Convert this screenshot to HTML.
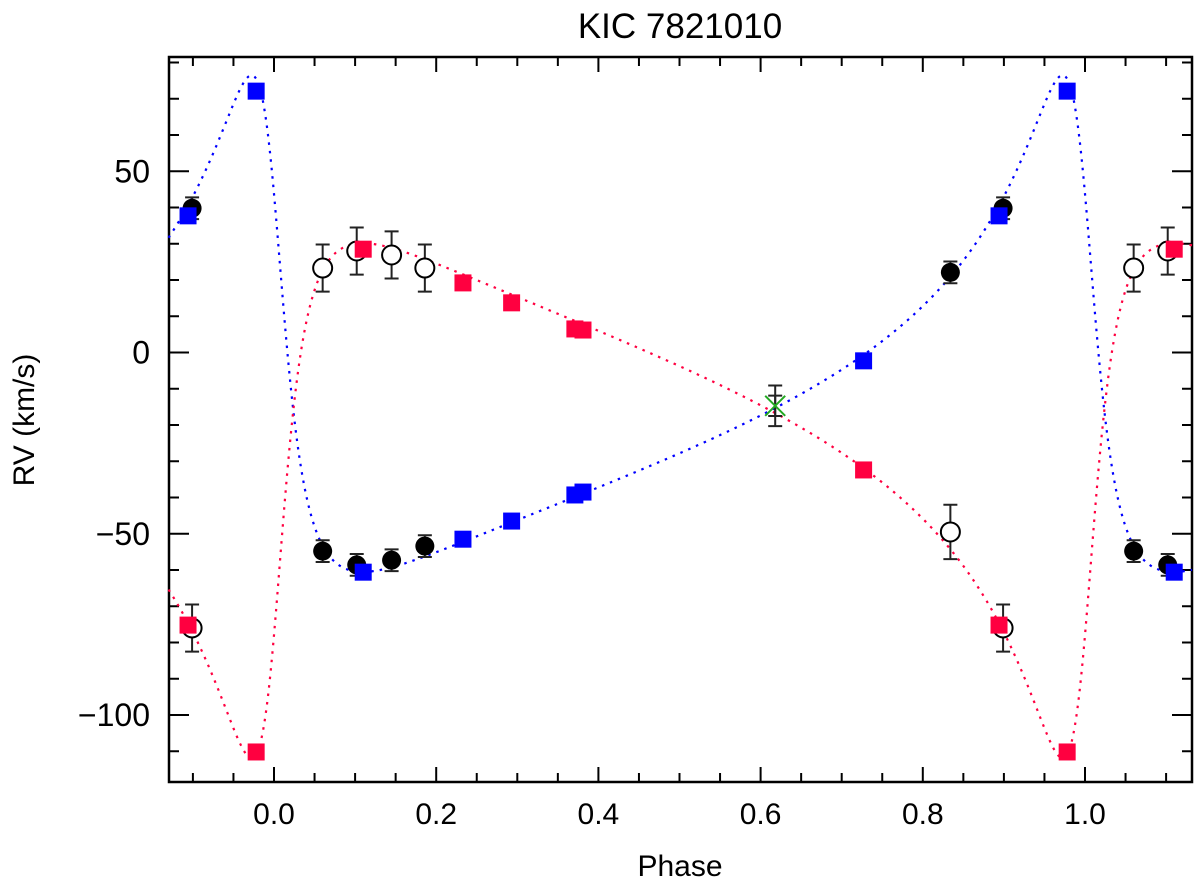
<!DOCTYPE html>
<html><head><meta charset="utf-8"><style>
html,body{margin:0;padding:0;background:#fff}
svg{display:block}
text{font-family:"Liberation Sans","DejaVu Sans",sans-serif;fill:#000}
</style></head><body>
<svg id="chart" width="1200" height="884" viewBox="0 0 1200 884" xmlns="http://www.w3.org/2000/svg">
<text x="680" y="38" font-size="35" text-anchor="middle">KIC 7821010</text>
<text x="680" y="876" font-size="30" text-anchor="middle">Phase</text>
<text x="0" y="0" font-size="30" text-anchor="middle" transform="translate(34,420) rotate(-90)">RV (km/s)</text>
<g id="axes"></g>
<g id="curves"></g>
<g id="marks"></g>
</svg>
<script>
// ---- data ----
const xTicks = [0.0, 0.2, 0.4, 0.6, 0.8, 1.0];
const xTickLabels = ["0.0", "0.2", "0.4", "0.6", "0.8", "1.0"];
const yTicks = [50, 0, -50, -100];
const yTickLabels = ["50", "0", "\u221250", "\u2212100"];
const sqPhase = [0.894, 0.978, 0.110, 0.233, 0.293, 0.371, 0.381, 0.727];
const sqBlue  = [37.7, 72.1, -60.6, -51.5, -46.5, -39.3, -38.5, -2.3];
const sqRed   = [-75.2, -110.2, 28.5, 19.2, 13.7, 6.5, 6.2, -32.4];
const cPhase  = [0.899, 0.060, 0.102, 0.145, 0.186, 0.834];
const cFilled = [39.8, -54.8, -58.6, -57.3, -53.4, 22.1];
const cFilledErr = [3, 3, 3, 3, 3, 3];
const cOpen   = [-76.0, 23.3, 28.0, 26.9, 23.3, -49.5];
const cOpenErr = [6.5, 6.5, 6.5, 6.5, 6.5, 7.5];
const xPoint = [0.618];
const xPointV = [-14.7];
const xPointErr = [5.6];
const orbitGamma = [-16];
const orbitK = [68.5, 71];
const orbitE = [0.67];
const orbitOmegaDeg = [58.5];

const X0=169, X1=1192, Y0=57, Y1=782;
const pMin=-0.13, pMax=1.132;
function xs(p){return 274 + (p-0.0)*811;}
function ys(v){return 352.5 - v*3.625;}
const NS="http://www.w3.org/2000/svg";
function el(tag, attrs, parent){const e=document.createElementNS(NS,tag);for(const k in attrs)e.setAttribute(k,attrs[k]);parent.appendChild(e);return e;}
const axes=document.getElementById('axes'), curves=document.getElementById('curves'), marks=document.getElementById('marks');

let fr=el('rect',{x:X0,y:Y0,width:X1-X0,height:Y1-Y0,fill:'none',stroke:'#000','stroke-width':2.5},axes);


for(let i=-3;i<=23;i++){
  const p=i*0.05; if(p<pMin||p>pMax) continue;
  const major = (i%4===0);
  const L = major?15:9, x=xs(p);
  let t=el('line',{x1:x,x2:x,y1:Y1,y2:Y1-L,stroke:'#000','stroke-width':2},axes);
  
  
  let t2=el('line',{x1:x,x2:x,y1:Y0,y2:Y0+L,stroke:'#000','stroke-width':2},axes);
  
  
}
xTicks.forEach((p,i)=>{
  let t=el('text',{x:xs(p),y:Y1+42,'font-size':30,'text-anchor':'middle'},axes);
  t.textContent=xTickLabels[i];
  
  
});
for(let v=-110;v<=80;v+=10){
  const y=ys(v); if(y<Y0||y>Y1) continue;
  const major=(v%50===0);
  const L=major?20:10;
  let t=el('line',{x1:X0,x2:X0+L,y1:y,y2:y,stroke:'#000','stroke-width':2},axes);
  
  
  let t2=el('line',{x1:X1,x2:X1-L,y1:y,y2:y,stroke:'#000','stroke-width':2},axes);
  
  
}
yTicks.forEach((v,i)=>{
  let t=el('text',{x:150,y:ys(v)+11,'font-size':32,'text-anchor':'end'},axes);
  t.textContent=yTickLabels[i];
  
  
});

function rv(phase, which){
  const e=orbitE[0], w=orbitOmegaDeg[0]*Math.PI/180;
  let M=2*Math.PI*(phase-Math.floor(phase));
  let E=M; for(let k=0;k<60;k++){E=E-(E-e*Math.sin(E)-M)/(1-e*Math.cos(E));}
  const nu=2*Math.atan2(Math.sqrt(1+e)*Math.sin(E/2),Math.sqrt(1-e)*Math.cos(E/2));
  const f=Math.cos(nu+w)+e*Math.cos(w);
  return which===0? orbitGamma[0]+orbitK[0]*f : orbitGamma[0]-orbitK[1]*f;
}
[['#0000ff',0,'primary-model-curve'],['#ff0040',1,'secondary-model-curve']].forEach(([c,w,nm])=>{
  let d='';
  for(let i=0;i<=1200;i++){
    const p=pMin+(pMax-pMin)*i/1200;
    d+=(i?'L':'M')+xs(p).toFixed(2)+' '+ys(rv(p,w)).toFixed(2);
  }
  let pth=el('path',{d:d,fill:'none',stroke:c,'stroke-width':2.2,'stroke-dasharray':'2.5 6'},curves);
  
  
});

function copies(p){const r=[];for(const o of [-1,0,1]){const q=p+o;if(q>=pMin&&q<=pMax)r.push(q);}return r;}
function errbar(x,v,err){
  const y1=ys(v+err), y2=ys(v-err);
  let g=el('path',{d:`M${x} ${y1}V${y2}M${x-7} ${y1}H${x+7}M${x-7} ${y2}H${x+7}`,stroke:'#222','stroke-width':2,fill:'none'},marks);
  
  
}
cPhase.forEach((p,i)=>copies(p).forEach(q=>{
  const x=xs(q); errbar(x,cOpen[i],cOpenErr[i]);
  let c=el('circle',{cx:x,cy:ys(cOpen[i]),r:9.5,fill:'#fff',stroke:'#000','stroke-width':2},marks);
  
  
}));
cPhase.forEach((p,i)=>copies(p).forEach(q=>{
  const x=xs(q); errbar(x,cFilled[i],cFilledErr[i]);
  let c=el('circle',{cx:x,cy:ys(cFilled[i]),r:9.5,fill:'#000'},marks);
  
  
}));
sqPhase.forEach((p,i)=>copies(p).forEach(q=>{
  const x=xs(q);
  let s=el('rect',{x:x-8.5,y:ys(sqBlue[i])-8.5,width:17,height:17,fill:'#0000ff'},marks);
  
  
  let r=el('rect',{x:x-8.5,y:ys(sqRed[i])-8.5,width:17,height:17,fill:'#ff0040'},marks);
  
  
}));
xPoint.forEach((p,i)=>{
  const x=xs(p), y=ys(xPointV[i]);
  errbar(x,xPointV[i],xPointErr[i]);
  errbar(x,xPointV[i],xPointErr[i]*0.5);
  let g=el('path',{d:`M${x-10} ${y-10}L${x+10} ${y+10}M${x-10} ${y+10}L${x+10} ${y-10}`,stroke:'#22aa22','stroke-width':2},marks);
  
  
});
</script>
</body></html>
